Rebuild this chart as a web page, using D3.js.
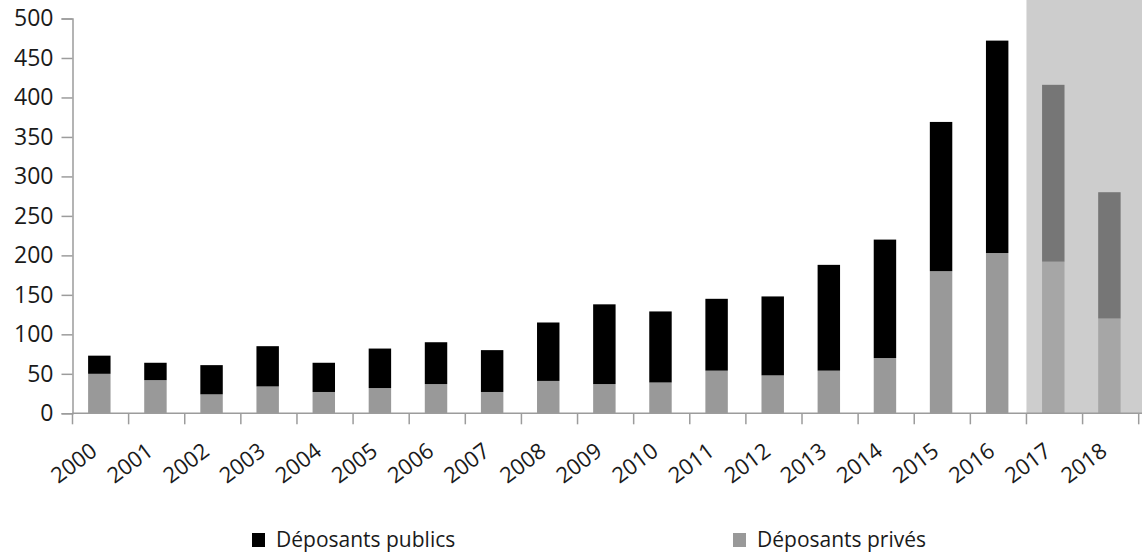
<!DOCTYPE html>
<meta charset="utf-8">
<style>
body { margin: 0; background: #fff; }
text { font-family: "Open Sans", "Noto Sans", sans-serif; fill: #1a1a1a; font-weight: 500; }
</style>
<body>
<svg id="chart" width="1142" height="554"></svg>
</body>
<script src="https://d3js.org/d3.v7.min.js"></script>
<script>

// data
var years = ["2000","2001","2002","2003","2004","2005","2006","2007","2008","2009",
             "2010","2011","2012","2013","2014","2015","2016","2017","2018"];
var privateValues = [50, 42, 24, 34, 27, 32, 37, 27, 41, 37, 39, 54, 48, 54, 70, 180, 203, 192, 120];
var publicValues  = [23, 22, 37, 51, 37, 50, 53, 53, 74, 101, 90, 91, 100, 134, 150, 189, 269, 224, 160];
var projectedYears = ["2017", "2018"];
var yTicks = [0, 50, 100, 150, 200, 250, 300, 350, 400, 450, 500];
var seriesNames = ["Déposants publics", "Déposants privés"];

var svg = d3.select("#chart");

var x = d3.scaleBand()
    .domain(years)
    .range([72.5, 1138.7])
    .padding(0);

var y = d3.scaleLinear()
    .domain([0, 500])
    .range([413.3, 18.5]);

var bw = x.bandwidth();
var axisColor = "#9c9c9c";

// shaded projection area
var firstProj = projectedYears[0];
svg.append("rect")
    .attr("x", x(firstProj))
    .attr("y", 0)
    .attr("width", 1142 - x(firstProj))
    .attr("height", y(0))
    .attr("fill", "#cdcdcd");

var rows = years.map(function(yr, i) {
  return { year: yr, priv: privateValues[i], pub: publicValues[i],
           proj: projectedYears.indexOf(yr) >= 0 };
});

var barX = function(d) { return x(d.year) + bw * 0.278; };
var barW = bw * 0.4;

var bars = svg.append("g");

bars.selectAll(".priv")
  .data(rows)
  .enter().append("rect")
    .attr("class", "priv")
    .attr("x", barX)
    .attr("width", barW)
    .attr("y", function(d) { return y(d.priv); })
    .attr("height", function(d) { return y(0) - y(d.priv); })
    .attr("fill", function(d) { return d.proj ? "#a6a6a6" : "#999999"; });

bars.selectAll(".pub")
  .data(rows)
  .enter().append("rect")
    .attr("class", "pub")
    .attr("x", barX)
    .attr("width", barW)
    .attr("y", function(d) { return y(d.priv + d.pub); })
    .attr("height", function(d) { return y(d.priv) - y(d.priv + d.pub); })
    .attr("fill", function(d) { return d.proj ? "#767676" : "#000000"; });

// y axis
var yAxis = svg.append("g")
    .attr("transform", "translate(72.5,0)")
    .call(d3.axisLeft(y).tickValues(yTicks).tickSize(11).tickPadding(8));
yAxis.select(".domain").attr("stroke", axisColor).attr("stroke-width", 1.5);
yAxis.selectAll(".tick line").attr("stroke", axisColor).attr("stroke-width", 1.5);
yAxis.selectAll(".tick text")
    .style("font-family", "'Open Sans', sans-serif")
    .style("font-size", "23px")
    .attr("fill", "#1a1a1a");

// x axis: ticks between categories
var xAxis = svg.append("g");
xAxis.append("line")
    .attr("x1", 72.5).attr("x2", 1142)
    .attr("y1", y(0)).attr("y2", y(0))
    .attr("stroke", axisColor).attr("stroke-width", 1.5);

var tickPos = years.map(function(yr) { return x(yr); }).concat([x(years[years.length - 1]) + bw]);
xAxis.selectAll(".xt")
  .data(tickPos)
  .enter().append("line")
    .attr("class", "xt")
    .attr("x1", function(d) { return d; })
    .attr("x2", function(d) { return d; })
    .attr("y1", y(0))
    .attr("y2", y(0) + 11)
    .attr("stroke", axisColor).attr("stroke-width", 1.5);

xAxis.selectAll(".xl")
  .data(years)
  .enter().append("text")
    .attr("class", "xl")
    .attr("text-anchor", "end")
    .attr("transform", function(d) {
      return "translate(" + (x(d) + bw / 2 - 2) + "," + 454 + ") rotate(-37)";
    })
    .style("font-size", "22px")
    .text(function(d) { return d; });

// legend
var legendColors = ["#000000", "#999999"];
var legendX = [252, 733];
var legend = svg.selectAll(".legend")
  .data(seriesNames)
  .enter().append("g")
    .attr("class", "legend")
    .attr("transform", function(d, i) { return "translate(" + legendX[i] + ",533)"; });

legend.append("rect")
    .attr("width", 13)
    .attr("height", 14)
    .attr("fill", function(d, i) { return legendColors[i]; });

legend.append("text")
    .attr("x", 24)
    .attr("y", 14)
    .style("font-size", "21px")
    .text(function(d) { return d; });

</script>
